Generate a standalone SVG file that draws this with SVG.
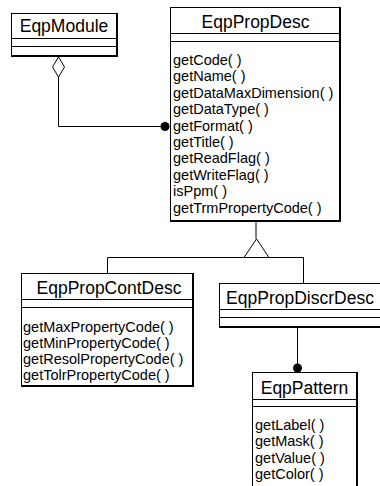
<svg xmlns="http://www.w3.org/2000/svg" width="380" height="486" viewBox="0 0 380 486">
<style>
.box{fill:#fff;stroke:#000;stroke-width:1}
.edge{fill:none;stroke:#000;stroke-width:2}
.sep{stroke:#000;stroke-width:1}
.title{font-family:"Liberation Sans",Arial,sans-serif;font-size:17.5px;text-anchor:middle;fill:#000}
.m{font-family:"Liberation Sans",Arial,sans-serif;font-size:14.5px;fill:#000}
.conn{fill:none;stroke:#000;stroke-width:1}
</style>
<rect width="380" height="486" fill="#fff"/>
<g id="connectors">
<path class="conn" d="M58.5,77 V126.5 H162"/>
<path class="conn" d="M58.5,57 L64.5,67 L58.5,77 L52.5,67 Z" fill="#fff"/>
<circle cx="165" cy="126.5" r="4.5" fill="#000"/>
<path class="conn" d="M256,222 V239" stroke-width="2"/>
<path class="conn" d="M107.5,273 V257.5 H303.5 V283"/>
<path class="conn" d="M256.5,239 L269,257.5 L244,257.5 Z" fill="#fff"/>
<path class="conn" d="M297.5,328 V366"/>
<circle cx="297.5" cy="368" r="4.5" fill="#000"/>
</g>
<g id="EqpModule">
<rect class="box" x="11.5" y="13.5" width="105" height="43"/>
<path class="edge" d="M11,56 H117 V13"/>
<line class="sep" x1="11" y1="38.5" x2="117" y2="38.5"/>
<line class="sep" x1="11" y1="46.5" x2="117" y2="46.5"/>
<text class="title" x="64" y="32">EqpModule</text>
</g>
<g id="EqpPropDesc">
<rect class="box" x="170.5" y="7.5" width="169" height="214"/>
<path class="edge" d="M170,221 H340 V7"/>
<line class="sep" x1="170" y1="33.5" x2="340" y2="33.5"/>
<line class="sep" x1="170" y1="41.5" x2="340" y2="41.5"/>
<text class="title" x="255.5" y="28">EqpPropDesc</text>
<text class="m" x="173" y="65">getCode( )</text>
<text class="m" x="173" y="81.4">getName( )</text>
<text class="m" x="173" y="97.8">getDataMaxDimension( )</text>
<text class="m" x="173" y="114.2">getDataType( )</text>
<text class="m" x="173" y="130.6">getFormat( )</text>
<text class="m" x="173" y="147">getTitle( )</text>
<text class="m" x="173" y="163.4">getReadFlag( )</text>
<text class="m" x="173" y="179.8">getWriteFlag( )</text>
<text class="m" x="173" y="196.2">isPpm( )</text>
<text class="m" x="173" y="212.6">getTrmPropertyCode( )</text>
</g>
<g id="EqpPropContDesc">
<rect class="box" x="21.5" y="273.5" width="171" height="113"/>
<path class="edge" d="M21,386 H193 V273"/>
<line class="sep" x1="21" y1="299.5" x2="193" y2="299.5"/>
<line class="sep" x1="21" y1="307.5" x2="193" y2="307.5"/>
<text class="title" x="109" y="294">EqpPropContDesc</text>
<text class="m" x="23" y="332">getMaxPropertyCode( )</text>
<text class="m" x="23" y="348">getMinPropertyCode( )</text>
<text class="m" x="23" y="364">getResolPropertyCode( )</text>
<text class="m" x="23" y="380">getTolrPropertyCode( )</text>
</g>
<g id="EqpPropDiscrDesc">
<rect class="box" x="219.5" y="283.5" width="170" height="44"/>
<path class="edge" d="M219,327 H390"/>
<line class="sep" x1="219" y1="309.5" x2="390" y2="309.5"/>
<line class="sep" x1="219" y1="317.5" x2="390" y2="317.5"/>
<text class="title" x="300" y="304">EqpPropDiscrDesc</text>
</g>
<g id="EqpPattern">
<rect class="box" x="252.5" y="372.5" width="104" height="130"/>
<path class="edge" d="M357,372 V500"/>
<line class="sep" x1="252" y1="399.5" x2="357" y2="399.5"/>
<line class="sep" x1="252" y1="406.5" x2="357" y2="406.5"/>
<text class="title" x="304.5" y="394">EqpPattern</text>
<text class="m" x="255" y="430">getLabel( )</text>
<text class="m" x="255" y="446.4">getMask( )</text>
<text class="m" x="255" y="462.8">getValue( )</text>
<text class="m" x="255" y="479.2">getColor( )</text>
</g>
</svg>
